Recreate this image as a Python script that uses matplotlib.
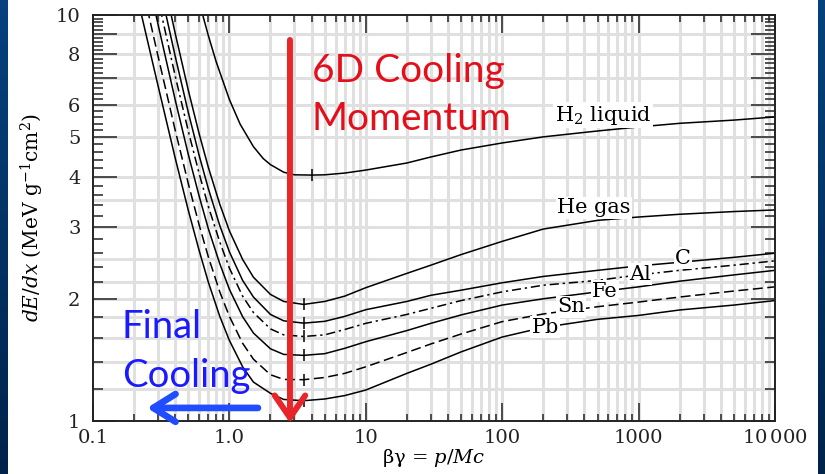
import numpy as np
import matplotlib
matplotlib.use("Agg")
import matplotlib.pyplot as plt
from matplotlib.ticker import FixedLocator, LogLocator, NullFormatter
from matplotlib.colors import LinearSegmentedColormap

# beta*gamma samples and dE/dx (MeV g^-1 cm^2)
bg_h2 = [0.63, 0.7, 0.8, 1.0, 1.2, 1.5, 1.77, 2.0, 2.5, 3.0, 4.0, 5.0, 7.0, 10, 20, 30, 50,
         100, 200, 500, 1000, 2000, 5000, 10000]
h2 = [10.14, 8.91, 7.67, 6.19, 5.38, 4.74, 4.43, 4.28, 4.10, 4.04, 4.034, 4.04, 4.08, 4.15,
      4.32, 4.47, 4.65, 4.84, 5.01, 5.18, 5.30, 5.41, 5.51, 5.61]

bg_he = [0.37, 0.4, 0.5, 0.6, 0.7, 0.85, 1.0, 1.25, 1.5, 2.0, 2.5, 3.5, 5, 7, 10, 20, 30, 50,
         100, 200, 500, 1000, 2000, 5000, 10000]
he = [10.17, 9.03, 6.52, 5.10, 4.22, 3.42, 2.94, 2.50, 2.26, 2.05, 1.97, 1.937, 1.97, 2.03,
      2.13, 2.31, 2.42, 2.57, 2.77, 2.97, 3.12, 3.18, 3.23, 3.28, 3.31]

bg_c = [0.34, 0.4, 0.5, 0.6, 0.7, 0.85, 1.0, 1.25, 1.5, 2.0, 2.5, 3.5, 5, 7, 10, 20, 30, 50,
        100, 200, 500, 1000, 2000, 5000, 10000]
c = [10.14, 7.93, 5.75, 4.51, 3.74, 3.03, 2.61, 2.22, 2.02, 1.83, 1.765, 1.742, 1.76, 1.81,
     1.88, 1.97, 2.04, 2.10, 2.19, 2.27, 2.35, 2.41, 2.46, 2.53, 2.59]

bg_al = [0.31, 0.4, 0.5, 0.6, 0.7, 0.85, 1.0, 1.25, 1.5, 2.0, 2.5, 3.5, 5, 7, 10, 20, 30, 50,
         100, 200, 500, 1000, 2000, 5000, 10000]
al = [10.41, 7.09, 5.17, 4.07, 3.38, 2.76, 2.38, 2.03, 1.85, 1.686, 1.63, 1.615, 1.63, 1.68,
      1.74, 1.83, 1.895, 1.98, 2.08, 2.16, 2.22, 2.29, 2.35, 2.42, 2.48]

bg_fe = [0.28, 0.3, 0.4, 0.5, 0.6, 0.7, 0.85, 1.0, 1.25, 1.5, 2.0, 2.5, 3.5, 5, 7, 10, 20, 30,
         50, 100, 200, 500, 1000, 2000, 5000, 10000]
fe = [10.51, 9.47, 6.19, 4.53, 3.58, 2.98, 2.44, 2.11, 1.807, 1.647, 1.506, 1.459, 1.451,
      1.465, 1.51, 1.568, 1.67, 1.74, 1.825, 1.93, 2.00, 2.08, 2.14, 2.21, 2.29, 2.35]

bg_sn = [0.25, 0.3, 0.4, 0.5, 0.6, 0.7, 0.85, 1.0, 1.25, 1.5, 2.0, 2.5, 3.5, 5, 7, 10, 20, 30,
         50, 100, 200, 500, 1000, 2000, 5000, 10000]
sn = [10.37, 7.91, 5.21, 3.84, 3.04, 2.54, 2.08, 1.81, 1.554, 1.42, 1.30, 1.266, 1.264, 1.28,
      1.31, 1.36, 1.475, 1.548, 1.638, 1.757, 1.835, 1.912, 1.963, 2.02, 2.09, 2.14]

bg_pb = [0.22, 0.25, 0.3, 0.4, 0.5, 0.6, 0.7, 0.85, 1.0, 1.25, 1.5, 2.0, 2.5, 3.5, 5, 7, 10,
         20, 30, 50, 100, 200, 500, 1000, 2000, 5000, 10000]
pb = [10.45, 8.69, 6.69, 4.45, 3.30, 2.63, 2.20, 1.81, 1.579, 1.36, 1.247, 1.17, 1.13, 1.122,
      1.133, 1.155, 1.192, 1.31, 1.38, 1.48, 1.61, 1.70, 1.78, 1.82, 1.877, 1.93, 1.98]

# minimum-ionization points
min_bg = [4.0, 3.5, 3.5, 3.5, 3.5, 3.5, 3.5]
min_val = [4.034, 1.937, 1.742, 1.615, 1.451, 1.264, 1.122]

labels = [r"H$_2$ liquid", "He gas", "C", "Al", "Fe", "Sn", "Pb"]
label_bg = [548, 471, 2117, 1023, 567, 319, 206]
label_val = [5.67, 3.35, 2.52, 2.30, 2.09, 1.91, 1.70]

x_ticks = [0.1, 1, 10, 100, 1000, 10000]
x_ticklabels = ["0.1", "1.0", "10", "100", "1000", "10$\\,$000"]
y_ticks = [1, 2, 3, 4, 5, 6, 7, 8, 9, 10]
y_ticklabels = ["1", "2", "3", "4", "5", "6", "", "8", "", "10"]
y_grid = [1.2, 1.4, 1.6, 1.8, 2.0, 2.2, 2.5, 3, 3.5, 4, 5, 6, 7, 8, 9]

plt.rcParams["font.family"] = "DejaVu Serif"
plt.rcParams["mathtext.fontset"] = "dejavuserif"

fig = plt.figure(figsize=(8.25, 4.74), dpi=100)
fig.patch.set_facecolor("white")

# dark blue slide edges
cmap = LinearSegmentedColormap.from_list("slide", ["#05427f", "#00234b"])
grad = np.linspace(0, 1, 256).reshape(-1, 1)
for rect in ([0, 0, 8 / 825, 1], [818 / 825, 0, 7 / 825, 1]):
    bax = fig.add_axes(rect)
    bax.imshow(grad, aspect="auto", cmap=cmap, extent=[0, 1, 0, 1])
    bax.axis("off")

ax = fig.add_axes([93 / 825, 53 / 474, 682 / 825, 406 / 474])
ax.set_xscale("log")
ax.set_yscale("log")
ax.set_xlim(0.1, 10000)
ax.set_ylim(1, 10)

# light grid
x_grid = [m * 10.0 ** e for e in range(-1, 4) for m in range(1, 10)][1:]
for gx in x_grid:
    ax.axvline(gx, color="#e0e0e0", lw=2.2, zorder=0)
for gy in y_grid:
    ax.axhline(gy, color="#e0e0e0", lw=2.2, zorder=0)

curves = [(bg_h2, h2, "-"), (bg_he, he, "-"), (bg_c, c, "-"),
          (bg_al, al, (0, (6, 2.5, 1.5, 2.5))), (bg_fe, fe, "-"),
          (bg_sn, sn, (0, (6.5, 3))), (bg_pb, pb, "-")]
for xs, ys, ls in curves:
    ax.plot(xs, ys, color="black", lw=1.1, ls=ls, zorder=2)
ax.plot(min_bg, min_val, ls="none", marker="|", ms=8, mew=1.1, color="black", zorder=2)

for txt, lx, ly in zip(labels, label_bg, label_val):
    ax.text(lx, ly, txt, fontsize=15, ha="center", va="center", zorder=3,
            bbox=dict(facecolor="white", edgecolor="none", pad=1.0))

ax.xaxis.set_major_locator(FixedLocator(x_ticks))
ax.set_xticklabels(x_ticklabels)
ax.xaxis.set_minor_locator(LogLocator(base=10, subs=range(2, 10)))
ax.xaxis.set_minor_formatter(NullFormatter())
ax.yaxis.set_major_locator(FixedLocator(y_ticks))
ax.set_yticklabels(y_ticklabels)
y_minor = [round(v, 1) for v in np.arange(1.2, 10.0, 0.2) if abs(v - round(v)) > 0.05]
ax.yaxis.set_minor_locator(FixedLocator(y_minor))
ax.yaxis.set_minor_formatter(NullFormatter())

ax.tick_params(which="both", direction="in", top=True, right=True, colors="#222222",
               labelsize=14, width=1.1)
ax.tick_params(axis="x", which="major", length=13, pad=6)
ax.tick_params(axis="x", which="minor", length=5)
ax.tick_params(axis="y", which="major", length=17, pad=9)
ax.tick_params(axis="y", which="minor", length=7)
for sp in ax.spines.values():
    sp.set_linewidth(1.4)
    sp.set_color("#222222")

ax.set_ylabel(r"$dE/dx$ (MeV g$^{-1}$cm$^{2}$)", fontsize=14.5, labelpad=7)
ax.set_xlabel(r"$\mathrm{\beta\gamma}$ = $p/Mc$", fontsize=14, labelpad=0)

# annotations
red_txt = "#e3101b"
blue_txt = "#1a1aff"
ax.annotate("", xy=(2.78, 0.989), xytext=(2.78, 8.68), annotation_clip=False,
            arrowprops=dict(arrowstyle="->,head_length=1.6,head_width=1.1", color="#e8262a",
                            lw=4.3, shrinkA=0, shrinkB=0), zorder=5)
ax.annotate("", xy=(0.249, 1.077), xytext=(1.62, 1.077), annotation_clip=False,
            arrowprops=dict(arrowstyle="->,head_length=1.6,head_width=1.0", color="#1f4dff",
                            lw=4.8, shrinkA=0, shrinkB=0), zorder=5)
ax.text(4.01, 6.85, "6D Cooling", color=red_txt, fontsize=28, family="Lato",
        ha="left", va="baseline", zorder=4)
ax.text(4.01, 5.21, "Momentum", color=red_txt, fontsize=28, family="Lato",
        ha="left", va="baseline", zorder=4)
ax.text(0.1623, 1.60, "Final", color=blue_txt, fontsize=27.5, family="Lato",
        ha="left", va="baseline", zorder=4)
ax.text(0.1623, 1.215, "Cooling", color=blue_txt, fontsize=27.5, family="Lato",
        ha="left", va="baseline", zorder=4)

fig.savefig("out.png", dpi=100)
